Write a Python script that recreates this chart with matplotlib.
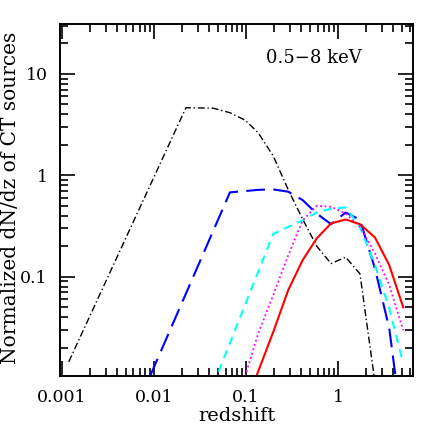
import numpy as np
import matplotlib.pyplot as plt
from matplotlib.ticker import LogLocator, NullFormatter, FixedLocator, FixedFormatter

# redshift grid
z_black = [0.00119, 0.0223, 0.044, 0.067, 0.098, 0.136, 0.198, 0.288, 0.413, 0.587, 0.84, 1.21, 1.73, 2.52]
n_black = [0.0145, 4.65, 4.6, 4.15, 3.5, 2.63, 1.55, 0.72, 0.37, 0.2, 0.135, 0.156, 0.107, 0.009]

z_blue = [0.0091, 0.067, 0.098, 0.136, 0.198, 0.288, 0.413, 0.587, 0.84, 1.21, 1.73, 2.52, 3.6, 5.1]
n_blue = [0.0105, 0.68, 0.70, 0.72, 0.727, 0.69, 0.57, 0.42, 0.33, 0.43, 0.365, 0.12, 0.031, 0.0027]

z_cyan = [0.044, 0.198, 0.288, 0.413, 0.587, 0.84, 1.21, 1.73, 2.52, 3.6, 5.1]
n_cyan = [0.0085, 0.265, 0.31, 0.36, 0.43, 0.47, 0.483, 0.31, 0.13, 0.049, 0.014]

z_mag = [0.098, 0.136, 0.198, 0.288, 0.413, 0.587, 0.84, 1.21, 1.73, 2.52, 3.6, 5.1]
n_mag = [0.0105, 0.0276, 0.066, 0.163, 0.36, 0.50, 0.49, 0.42, 0.31, 0.17, 0.083, 0.0297]

z_red = [0.13, 0.198, 0.288, 0.413, 0.587, 0.84, 1.21, 1.73, 2.52, 3.6, 5.1]
n_red = [0.0105, 0.0286, 0.074, 0.146, 0.239, 0.336, 0.367, 0.33, 0.244, 0.13, 0.05]

xticks = [0.001, 0.01, 0.1, 1]
xticklabels = ['0.001', '0.01', '0.1', '1']
yticks = [0.1, 1, 10]
yticklabels = ['0.1', '1', '10']

plt.rcParams['font.family'] = 'DejaVu Serif'

fig = plt.figure(figsize=(4.36, 4.36), dpi=100)
ax = fig.add_axes([0.138, 0.1376, 0.809, 0.807])

ax.plot(z_black, n_black, color='black', lw=1.0, dashes=(5, 2, 1, 2))
ax.plot(z_blue, n_blue, color='blue', lw=1.5, dashes=(9, 4))
ax.plot(z_cyan, n_cyan, color='cyan', lw=1.5, dashes=(4, 3))
ax.plot(z_mag, n_mag, color='magenta', lw=1.3, dashes=(1, 1.5))
ax.plot(z_red, n_red, color='red', lw=1.5)

ax.set_xscale('log')
ax.set_yscale('log')
ax.set_xlim(0.00096, 6.5)
ax.set_ylim(0.0105, 31)

ax.xaxis.set_major_locator(FixedLocator(xticks))
ax.xaxis.set_major_formatter(FixedFormatter(xticklabels))
ax.yaxis.set_major_locator(FixedLocator(yticks))
ax.yaxis.set_major_formatter(FixedFormatter(yticklabels))
ax.xaxis.set_minor_locator(LogLocator(base=10, subs=np.arange(2, 10)))
ax.yaxis.set_minor_locator(LogLocator(base=10, subs=np.arange(2, 10)))
ax.xaxis.set_minor_formatter(NullFormatter())
ax.yaxis.set_minor_formatter(NullFormatter())

ax.tick_params(which='both', direction='in', top=True, right=True, width=1.2)
ax.tick_params(which='major', length=11, labelsize=12.5, pad=9)
ax.tick_params(which='minor', length=6)
for s in ax.spines.values():
    s.set_linewidth(1.4)

ax.set_xlabel('redshift', fontsize=14, labelpad=1)
fig.text(11 / 436, 1 - 198 / 436, 'Normalized dN/dz of CT sources', fontsize=14.5,
         rotation=90, ha='center', va='center')
ax.text(0.72, 0.905, '0.5\u22128 keV', transform=ax.transAxes, fontsize=13,
        ha='center', va='center')

fig.savefig('out.png', dpi=100)
